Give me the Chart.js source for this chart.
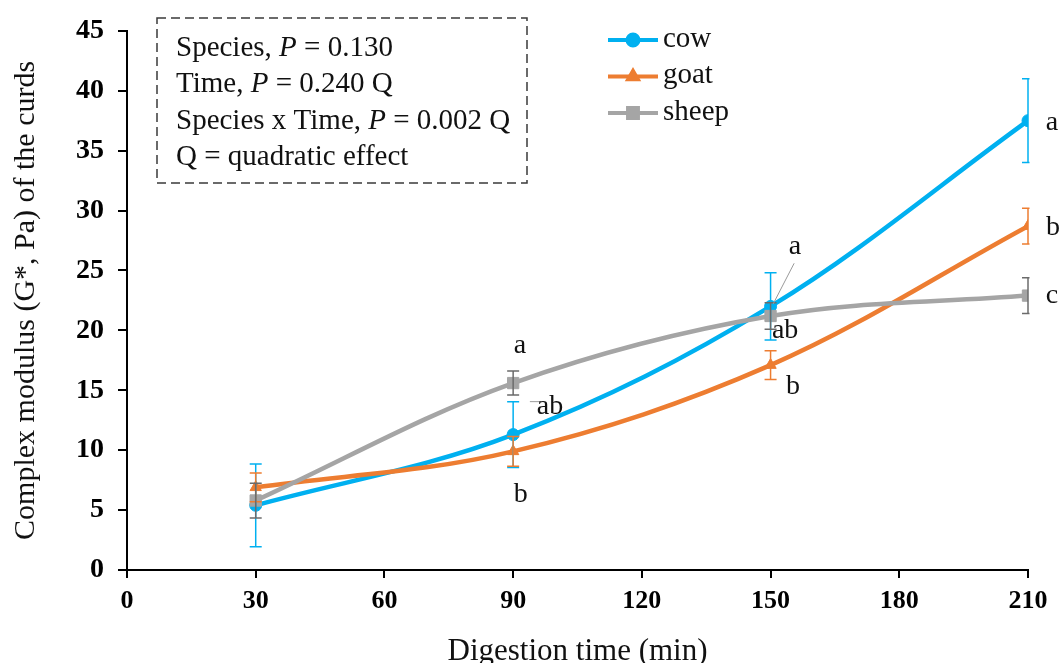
<!DOCTYPE html>
<html>
<head>
<meta charset="utf-8">
<script src="https://cdn.jsdelivr.net/npm/chart.js@4.4.1/dist/chart.umd.min.js"></script>
<style>
  html, body { margin: 0; padding: 0; background: #fff; }
  #wrap { width: 1061px; height: 663px; }
</style>
</head>
<body>
<div id="wrap"><canvas id="curdChart"></canvas></div>
<script>
// ── Data ─────────────────────────────────────────────────────────────
var times      = [30, 90, 150, 210];
var cowMeans   = [5.4, 11.3, 22.0, 37.5];
var cowErr     = [3.45, 2.75, 2.8, 3.5];
var goatMeans  = [6.9, 9.9, 17.1, 28.7];
var goatErr    = [1.2, 1.25, 1.2, 1.5];
var sheepMeans = [5.8, 15.6, 21.2, 22.9];
var sheepErr   = [1.45, 1.0, 1.1, 1.5];
var xTicks     = [0, 30, 60, 90, 120, 150, 180, 210];

// significance letters [time, value, text]
var letters = [
  [91.6, 18.7, 'a'], [98.6, 13.65, 'ab'], [91.8, 6.3, 'b'],
  [155.7, 27.0, 'a'], [153.4, 20.0, 'ab'], [155.2, 15.3, 'b'],
  [215.6, 37.3, 'a'], [215.8, 28.6, 'b'], [215.6, 22.9, 'c']
];
// leader lines [x1, y1, x2, y2]
var leaders = [
  [93.9, 14.05, 96.5, 14.05],
  [155.5, 25.6, 150.6, 22.2]
];
var statLines = [
  ['Species, ', 'P', ' = 0.130'],
  ['Time, ', 'P', ' = 0.240 Q'],
  ['Species x Time, ', 'P', ' = 0.002 Q'],
  ['Q = quadratic effect', '', '']
];

var SERIF = '"Liberation Serif", "Times New Roman", serif';
var BLUE = '#00B0F0', ORANGE = '#ED7D31', GREY = '#A5A5A5';

function pts(means) {
  return times.map(function (t, i) { return { x: t, y: means[i] }; });
}

// ── Error bars (clipped at the plot edge like the original) ──────────
var errorBars = {
  id: 'errorBars',
  afterDatasetsDraw: function (chart) {
    var ctx = chart.ctx, a = chart.chartArea;
    var xs = chart.scales.x, ys = chart.scales.y;
    var sets = [[cowMeans, cowErr, BLUE], [goatMeans, goatErr, ORANGE], [sheepMeans, sheepErr, '#6b6b6b']];
    ctx.save();
    ctx.beginPath();
    ctx.rect(a.left, a.top - 20, a.right - a.left + 1.5, a.bottom - a.top + 20);
    ctx.clip();
    ctx.lineWidth = 1.5;
    sets.forEach(function (s) {
      ctx.strokeStyle = s[2];
      times.forEach(function (t, i) {
        var px = xs.getPixelForValue(t);
        var top = ys.getPixelForValue(s[0][i] + s[1][i]);
        var bot = ys.getPixelForValue(s[0][i] - s[1][i]);
        ctx.beginPath();
        ctx.moveTo(px, top); ctx.lineTo(px, bot);
        ctx.moveTo(px - 6, top); ctx.lineTo(px + 6, top);
        ctx.moveTo(px - 6, bot); ctx.lineTo(px + 6, bot);
        ctx.stroke();
      });
    });
    ctx.restore();
  }
};

// ── Stats box, legend, letters ───────────────────────────────────────
var decorations = {
  id: 'decorations',
  afterDraw: function (chart) {
    var ctx = chart.ctx;
    var xs = chart.scales.x, ys = chart.scales.y;
    ctx.save();

    ctx.strokeStyle = '#3a3a3a';
    ctx.lineWidth = 1.5;
    ctx.setLineDash([9, 5]);
    ctx.strokeRect(157, 18, 370, 165);
    ctx.setLineDash([]);
    ctx.fillStyle = '#111';
    ctx.textBaseline = 'middle';
    ctx.textAlign = 'left';
    statLines.forEach(function (parts, i) {
      var x = 176, y = 48 + i * 36.5;
      ctx.font = '29px ' + SERIF;
      ctx.fillText(parts[0], x, y);
      x += ctx.measureText(parts[0]).width;
      if (parts[1]) {
        ctx.font = 'italic 29px ' + SERIF;
        ctx.fillText(parts[1], x, y);
        x += ctx.measureText(parts[1]).width;
        ctx.font = '29px ' + SERIF;
        ctx.fillText(parts[2], x, y);
      }
    });

    var legend = [['cow', BLUE, 'circle'], ['goat', ORANGE, 'triangle'], ['sheep', GREY, 'rect']];
    legend.forEach(function (l, i) {
      var y = 40 + i * 36.5;
      ctx.strokeStyle = l[1];
      ctx.fillStyle = l[1];
      ctx.lineWidth = 4;
      ctx.beginPath();
      ctx.moveTo(608, y); ctx.lineTo(658, y);
      ctx.stroke();
      Chart.helpers.drawPoint(ctx, { pointStyle: l[2], radius: l[2] === 'rect' ? 7 : 5.5, borderWidth: 1 }, 633, y);
      ctx.fillStyle = '#111';
      ctx.font = '29px ' + SERIF;
      ctx.fillText(l[0], 663, y - 1);
    });

    ctx.strokeStyle = '#9a9a9a';
    ctx.lineWidth = 1;
    leaders.forEach(function (l) {
      ctx.beginPath();
      ctx.moveTo(xs.getPixelForValue(l[0]), ys.getPixelForValue(l[1]));
      ctx.lineTo(xs.getPixelForValue(l[2]), ys.getPixelForValue(l[3]));
      ctx.stroke();
    });

    ctx.fillStyle = '#111';
    ctx.font = '28px ' + SERIF;
    ctx.textAlign = 'center';
    letters.forEach(function (l) {
      ctx.fillText(l[2], xs.getPixelForValue(l[0]), ys.getPixelForValue(l[1]));
    });
    ctx.restore();
  }
};

var el = document.getElementById('curdChart');
new Chart(el, {
  type: 'line',
  data: {
    datasets: [
      {
        label: 'cow', data: pts(cowMeans), order: 3,
        borderColor: BLUE, backgroundColor: BLUE,
        pointStyle: 'circle', pointRadius: 6
      },
      {
        label: 'goat', data: pts(goatMeans), order: 2,
        borderColor: ORANGE, backgroundColor: ORANGE,
        pointStyle: 'triangle', pointRadius: 6.5
      },
      {
        label: 'sheep', data: pts(sheepMeans), order: 1,
        borderColor: GREY, backgroundColor: GREY,
        pointStyle: 'rect', pointRadius: 8
      }
    ]
  },
  options: {
    responsive: true,
    maintainAspectRatio: false,
    animation: false,
    layout: { padding: { top: 23, right: 33, left: 0, bottom: 0 } },
    elements: {
      line: { borderWidth: 4.5, tension: 0.35 },
      point: { borderWidth: 1 }
    },
    plugins: { legend: { display: false }, tooltip: { enabled: false } },
    scales: {
      x: {
        type: 'linear', min: 0, max: 210,
        afterFit: function (s) { s.height = 93; },
        afterBuildTicks: function (s) { s.ticks = xTicks.map(function (v) { return { value: v }; }); },
        border: { color: '#000', width: 2 },
        grid: { drawOnChartArea: false, color: '#000', tickLength: 8, lineWidth: 2 },
        ticks: { color: '#000', padding: 8, font: { family: SERIF, size: 26, weight: 'bold' } },
        title: { display: true, text: 'Digestion time (min)', color: '#111', padding: { top: 0, bottom: 0 },
                 font: { family: SERIF, size: 31, lineHeight: 0.75 } }
      },
      y: {
        min: 0, max: 45,
        afterFit: function (s) { s.width = 127; },
        border: { color: '#000', width: 2 },
        grid: { drawOnChartArea: false, color: '#000', tickLength: 9, lineWidth: 2 },
        ticks: { stepSize: 5, color: '#000', padding: 14, font: { family: SERIF, size: 28, weight: 'bold' } },
        title: { display: true, text: 'Complex modulus (G*, Pa) of the curds', color: '#111',
                 padding: { top: 8, bottom: 0 }, font: { family: SERIF, size: 30 } }
      }
    }
  },
  plugins: [errorBars, decorations]
});
</script>
</body>
</html>
